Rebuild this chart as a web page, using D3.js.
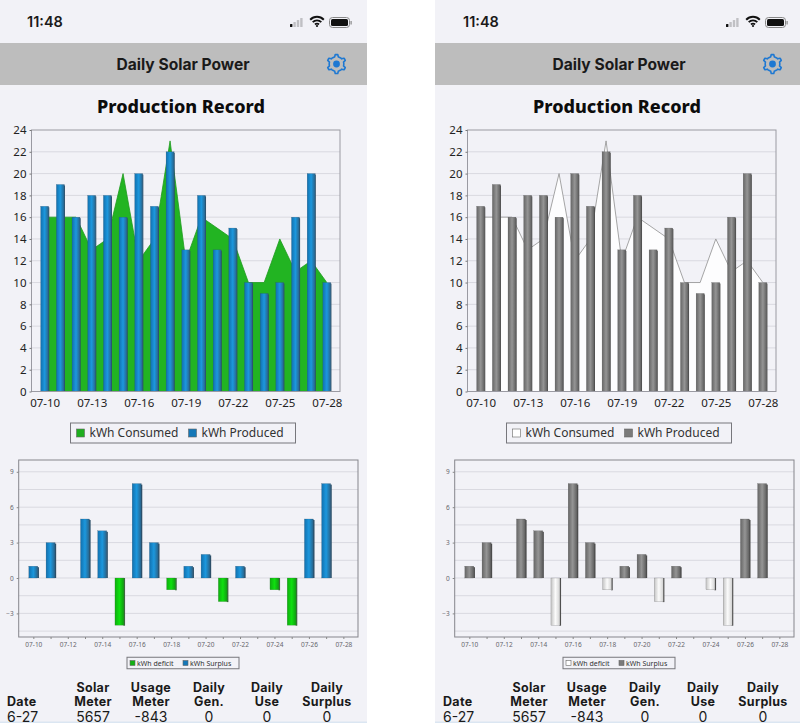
<!DOCTYPE html>
<html>
<head>
<meta charset="utf-8">
<style>
  html, body { margin: 0; padding: 0; background: #fff; overflow: hidden; }
</style>
<script src="https://cdn.jsdelivr.net/npm/d3@7"></script>
</head>
<body>
<svg id="chart" width="800" height="723"></svg>
<script>
var days = ["07-10","07-11","07-12","07-13","07-14","07-15","07-16","07-17","07-18","07-19",
            "07-20","07-21","07-22","07-23","07-24","07-25","07-26","07-27","07-28"];
var consumed = [16,16,16,13,14,20,12,14,23,12,16,15,14,10,10,14,11,12,10];
var produced = [17,19,16,18,18,16,20,17,22,13,18,13,15,10,9,10,16,20,10];
var surplus = [1,3,0,5,4,0,8,3,0,1,2,0,1,0,0,0,5,8,0];
var deficit = [0,0,0,0,0,-4,0,0,-1,0,0,-2,0,0,-1,-4,0,0,0];
var topTicks = d3.range(0, 25, 2);
var topLabelDays = ["07-10","07-13","07-16","07-19","07-22","07-25","07-28"];
var bottomTicks = [-3,0,3,6,9];
var bottomGrid = [-4.5,-3,-1.5,0,1.5,3,4.5,6,7.5,9];
var bottomLabelDays = ["07-10","07-12","07-14","07-16","07-18","07-20","07-22","07-24","07-26","07-28"];
var tableHead = [["","Date"],["Solar","Meter"],["Usage","Meter"],["Daily","Gen."],["Daily","Use"],["Daily","Surplus"]];
var tableRow = ["6-27","5657","-843","0","0","0"];

var themes = [
  { x: 0, w: 367, area: "#22b422", areaLine: "#1f9a1f", prod: ["#1170ae","#1c98de","#2a6288"], side: "#2c4f68",
    def: ["#0fae0f","#0fe00f","#119a11"], defSide: "#3c6a3c", keyA: "#1fae1f", keyB: "#1578b8", keyDef: "#12b012", id: "c" },
  { x: 436, w: 365, area: "#fdfdfe", areaLine: "#8f8f8f", prod: ["#666666","#959595","#5e5e5e"], side: "#4c4c4c",
    def: ["#c4c4c4","#fbfbfb","#d2d2d2"], defSide: "#4f4f4f", keyA: "#ffffff", keyB: "#7a7a7a", keyDef: "#ffffff", id: "g" }
];

var svg = d3.select("#chart");
var defs = svg.append("defs");

function addGradient(id, cols) {
  var g = defs.append("linearGradient").attr("id", id).attr("x1", 0).attr("x2", 1).attr("y1", 0).attr("y2", 0);
  g.append("stop").attr("offset", "0%").attr("stop-color", cols[0]);
  g.append("stop").attr("offset", "50%").attr("stop-color", cols[1]);
  g.append("stop").attr("offset", "100%").attr("stop-color", cols[2]);
}

function legend(g, cx, cy, w, h, fs, items, gap) {
  var l = g.append("g").attr("transform", "translate(" + (cx - w / 2) + "," + (cy - h / 2) + ")");
  l.append("rect").attr("width", w).attr("height", h).attr("fill", "#f2f2f7").attr("stroke", "#77777c");
  items.forEach(function (it) {
    var s = fs > 10 ? 8 : 5;
    l.append("rect").attr("x", it.x).attr("y", (h - s) / 2).attr("width", s).attr("height", s)
      .attr("fill", it.color).attr("stroke", "#666").attr("stroke-width", 0.6);
    l.append("text").attr("x", it.x + s + gap).attr("y", h / 2 + fs * 0.36)
      .attr("fill", "#333").attr("font-family", "Noto Sans").attr("font-size", fs).text(it.label);
  });
}

function bars(g, vals, x, y, width, fill, side, sideW) {
  var data = vals.map(function (v, i) { return { day: days[i], v: v }; }).filter(function (d) { return d.v !== 0; });
  g.selectAll(null).data(data).enter().append("rect")
    .attr("x", function (d) { return x(d.day) - width / 2 + width - 0.5; })
    .attr("y", function (d) { return Math.min(y(d.v), y(0)) + (d.v > 0 ? 1 : 0); })
    .attr("width", sideW)
    .attr("height", function (d) { return Math.abs(y(d.v) - y(0)) - (d.v > 0 ? 1 : 0) + (d.v < 0 ? 0.5 : 0); })
    .attr("fill", side);
  g.selectAll(null).data(data).enter().append("rect")
    .attr("x", function (d) { return x(d.day) - width / 2; })
    .attr("y", function (d) { return Math.min(y(d.v), y(0)); })
    .attr("width", width)
    .attr("height", function (d) { return Math.abs(y(d.v) - y(0)); })
    .attr("fill", fill)
    .attr("stroke", side).attr("stroke-width", 0.3).attr("stroke-opacity", 0.7);
}

function drawTop(g, th) {
  var x = d3.scalePoint().domain(days).range([31.5, 340]).padding(0.84);
  var y = d3.scaleLinear().domain([0, 24]).range([391.5, 130]);

  g.append("rect").attr("x", 31.5).attr("y", 130).attr("width", 308.5).attr("height", 261.5).attr("fill", "#f2f2f7");
  g.selectAll(null).data(topTicks.slice(1, -1)).enter().append("line")
    .attr("x1", 31.5).attr("x2", 340)
    .attr("y1", function (d) { return y(d); }).attr("y2", function (d) { return y(d); })
    .attr("stroke", "#d9d9e0");

  var area = d3.area().x(function (d) { return x(d.day); }).y0(y(0)).y1(function (d) { return y(d.v); });
  var line = d3.line().x(function (d) { return x(d.day); }).y(function (d) { return y(d.v); });
  var pts = consumed.map(function (v, i) { return { day: days[i], v: v }; });
  g.append("path").datum(pts).attr("d", area).attr("fill", th.area);
  g.append("path").datum(pts).attr("d", line).attr("fill", "none").attr("stroke", th.areaLine).attr("stroke-width", 0.8);

  bars(g, produced, x, y, 8, "url(#prod" + th.id + ")", th.side, 1.1);

  g.append("rect").attr("x", 31.5).attr("y", 130).attr("width", 308.5).attr("height", 261.5)
    .attr("fill", "none").attr("stroke", "#9a9aa2");

  var yAxis = g.append("g").attr("transform", "translate(31.5,0)")
    .call(d3.axisLeft(y).tickValues(topTicks).tickSize(2).tickPadding(3));
  var xAxis = g.append("g").attr("transform", "translate(0,391.5)")
    .call(d3.axisBottom(x).tickValues(topLabelDays).tickSize(0).tickPadding(7));
  [yAxis, xAxis].forEach(function (a) {
    a.selectAll("text").attr("font-family", "Noto Sans").attr("font-size", 11.5).attr("fill", "#222");
    a.selectAll("line").attr("stroke", "#777");
    a.select(".domain").remove();
  });

  legend(g, 183, 433, 225, 20, 12, [
    { x: 6, color: th.keyA, label: "kWh Consumed" },
    { x: 118, color: th.keyB, label: "kWh Produced" }
  ], 5);
}

function drawBottom(g, th) {
  var x = d3.scalePoint().domain(days).range([18.7, 358]).padding(0.85);
  var y = d3.scaleLinear().domain([-5, 10]).range([637, 460]);

  g.append("rect").attr("x", 18.7).attr("y", 460).attr("width", 339.3).attr("height", 177).attr("fill", "#f2f2f7");
  g.selectAll(null).data(bottomGrid).enter().append("line")
    .attr("x1", 18.7).attr("x2", 358)
    .attr("y1", function (d) { return y(d); }).attr("y2", function (d) { return y(d); })
    .attr("stroke", "#d9d9e0");

  bars(g, surplus, x, y, 9, "url(#prod" + th.id + ")", th.side, 1.6);
  bars(g, deficit, x, y, 9, "url(#def" + th.id + ")", th.defSide, 1.6);

  g.append("rect").attr("x", 18.7).attr("y", 460).attr("width", 339.3).attr("height", 177)
    .attr("fill", "none").attr("stroke", "#85858c");

  var yAxis = g.append("g").attr("transform", "translate(18.7,0)")
    .call(d3.axisLeft(y).tickValues(bottomTicks).tickSize(2).tickPadding(3));
  var xAxis = g.append("g").attr("transform", "translate(0,637)")
    .call(d3.axisBottom(x).tickValues(days).tickSize(2).tickPadding(3)
      .tickFormat(function (d) { return bottomLabelDays.indexOf(d) >= 0 ? d : ""; }));
  [yAxis, xAxis].forEach(function (a) {
    a.selectAll("text").attr("font-family", "Noto Sans").attr("font-size", 6.5).attr("fill", "#66666c");
    a.selectAll("line").attr("stroke", "#888");
    a.select(".domain").remove();
  });

  legend(g, 183, 663, 112, 11.5, 7, [
    { x: 3, color: th.keyDef, label: "kWh deficit" },
    { x: 56, color: th.keyB, label: "kWh Surplus" }
  ], 2);
}

function drawChrome(g, th) {
  var over = th.x === 0 ? 0 : -1;
  g.append("rect").attr("x", over).attr("y", 0).attr("width", th.w).attr("height", 723).attr("fill", "#f2f2f7");
  g.append("rect").attr("x", over).attr("y", 43).attr("width", th.w).attr("height", 42).attr("fill", "#bdbdbd");
  g.append("rect").attr("x", over).attr("y", 721.5).attr("width", th.w).attr("height", 1.5).attr("fill", "#dbe6f2");

  g.append("text").attr("x", 27).attr("y", 27).attr("font-family", "Inter").attr("font-size", 14.5)
    .attr("font-weight", 600).attr("fill", "#1a1a1a").text("11:48");

  // signal bars
  var sig = [3, 5, 7, 9];
  g.selectAll(null).data(sig).enter().append("rect")
    .attr("x", function (d, i) { return 290 + i * 3.4; })
    .attr("y", function (d) { return 27 - d; })
    .attr("width", 2.4).attr("height", function (d) { return d; })
    .attr("rx", 0.5)
    .attr("fill", function (d, i) { return i === 0 ? "#111" : "#c0c0c4"; });

  // wifi
  var wifi = g.append("g").attr("transform", "translate(317,27)").attr("fill", "none").attr("stroke", "#111");
  [[6.8, 2], [4.3, 1.9], [2, 1.8]].forEach(function (a) {
    var r = a[0];
    wifi.append("path").attr("stroke-width", a[1])
      .attr("d", "M" + (-r) + "," + (-r - 0.5) + "A" + (r * 1.41) + "," + (r * 1.41) + " 0 0 1 " + r + "," + (-r - 0.5));
  });
  wifi.append("circle").attr("cy", -1).attr("r", 1.1).attr("fill", "#111").attr("stroke", "none");

  // battery
  g.append("rect").attr("x", 329.5).attr("y", 17.5).attr("width", 20).attr("height", 10).attr("rx", 3)
    .attr("fill", "none").attr("stroke", "#888");
  g.append("rect").attr("x", 331).attr("y", 19).attr("width", 17).attr("height", 7).attr("rx", 1.5).attr("fill", "#111");
  g.append("rect").attr("x", 350.5).attr("y", 21).attr("width", 1.2).attr("height", 3.5).attr("fill", "#888");

  g.append("text").attr("x", 183).attr("y", 70).attr("text-anchor", "middle")
    .attr("font-family", "Inter").attr("font-size", 15.6).attr("font-weight", 700).attr("fill", "#1a1a1a")
    .text("Daily Solar Power");

  // settings gear
  var gear = g.append("g").attr("transform", "translate(336.5,64)");
  var pts = d3.range(48).map(function (i) {
    var a = i * Math.PI / 24 - Math.PI / 2;
    var r = (i % 8 < 2 || i % 8 > 6) ? 9.5 : 7.3;
    return [r * Math.cos(a), r * Math.sin(a)];
  });
  gear.append("path").attr("d", d3.line().curve(d3.curveLinearClosed)(pts))
    .attr("fill", "none").attr("stroke", "#1e78d2").attr("stroke-width", 1.6).attr("stroke-linejoin", "round");
  gear.append("circle").attr("r", 3.4).attr("fill", "#1e78d2");

  g.append("text").attr("x", 181).attr("y", 113).attr("text-anchor", "middle")
    .attr("font-family", "Noto Sans").attr("font-size", 18).attr("font-weight", 800).attr("fill", "#0c0c0c")
    .text("Production Record");

  // summary table
  var colX = [7, 93, 151, 209, 267, 327];
  tableHead.forEach(function (h, i) {
    var anchor = i === 0 ? "start" : "middle";
    h.forEach(function (t, j) {
      g.append("text").attr("x", colX[i]).attr("y", 692 + j * 14).attr("text-anchor", anchor)
        .attr("font-family", "Inter").attr("font-size", 12.5).attr("font-weight", 700)
        .attr("letter-spacing", 0.3).attr("fill", "#1a1a1a").text(t);
    });
    g.append("text").attr("x", colX[i]).attr("y", 721.5).attr("text-anchor", anchor)
      .attr("font-family", "Inter").attr("font-size", 14).attr("fill", "#1a1a1a").text(tableRow[i]);
  });
}

themes.forEach(function (th) {
  addGradient("prod" + th.id, th.prod);
  addGradient("def" + th.id, th.def);
  var g = svg.append("g").attr("transform", "translate(" + th.x + ",0)");
  drawChrome(g, th);
  drawTop(g, th);
  drawBottom(g, th);
});
</script>
</body>
</html>
